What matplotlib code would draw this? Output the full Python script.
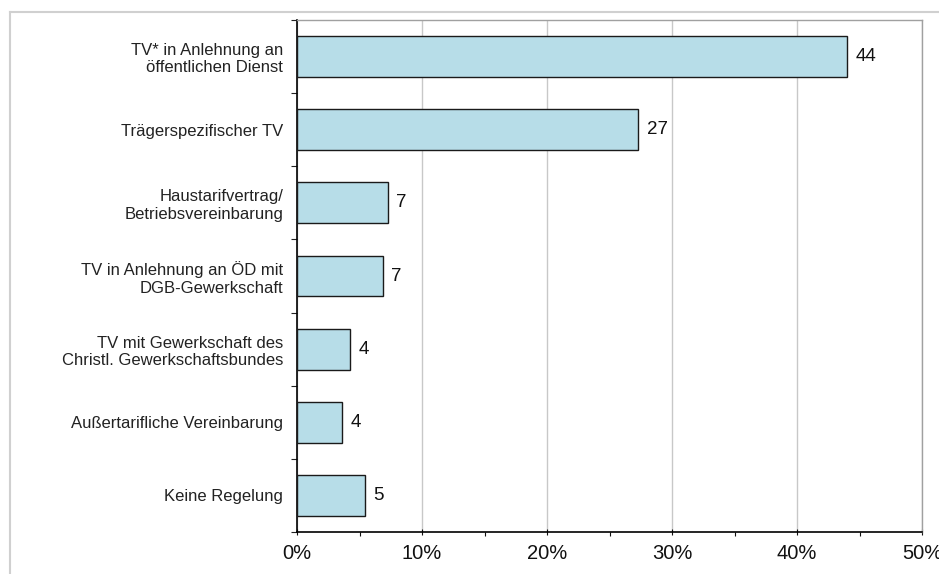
import matplotlib
matplotlib.use("Agg")
import matplotlib.pyplot as plt
from matplotlib.lines import Line2D
from matplotlib.ticker import FixedLocator, FuncFormatter

categories = [
    "TV* in Anlehnung an\nöffentlichen Dienst",
    "Trägerspezifischer TV",
    "Haustarifvertrag/\nBetriebsvereinbarung",
    "TV in Anlehnung an ÖD mit\nDGB-Gewerkschaft",
    "TV mit Gewerkschaft des\nChristl. Gewerkschaftsbundes",
    "Außertarifliche Vereinbarung",
    "Keine Regelung",
]
values = [44.0, 27.3, 7.25, 6.85, 4.25, 3.6, 5.45]
value_labels = ["44", "27", "7", "7", "4", "4", "5"]
x_ticks = [0, 10, 20, 30, 40, 50]

plt.rcParams["font.family"] = ["Liberation Sans", "DejaVu Sans"]

fig = plt.figure(figsize=(9.39, 5.74), dpi=100)
ax = fig.add_axes([297/939, 1-532/574, 625/939, 512/574])

n = len(categories)
ypos = list(range(n))
ax.barh(ypos, values, height=0.56, color="#b7dde8", edgecolor="#1a1a1a", linewidth=1.0, zorder=3)
for y, v, lab in zip(ypos, values, value_labels):
    ax.annotate(lab, (v, y), xytext=(6, 0), textcoords="offset points",
                va="center", ha="left", fontsize=13.5, color="#111111")

ax.set_ylim(n - 0.5, -0.5)
ax.set_xlim(0, 50)
ax.set_yticks(ypos)
ax.set_yticklabels(categories, fontsize=12, color="#222222", ha="right")
ax.yaxis.set_major_locator(FixedLocator(ypos))
ax.set_yticks([i - 0.5 for i in range(n + 1)], minor=True)
ax.tick_params(axis="y", which="major", length=0, pad=10)
ax.tick_params(axis="y", which="minor", length=4, width=0.8, color="#222222", direction="out")

ax.set_xticks(x_ticks)
ax.xaxis.set_major_formatter(FuncFormatter(lambda v, p: f"{int(v)}%"))
ax.set_xticks([5, 15, 25, 35, 45], minor=True)
ax.tick_params(axis="x", which="major", length=5, width=0.8, direction="inout", labelsize=14.5, pad=6, colors="#111111")
ax.tick_params(axis="x", which="minor", length=3, width=0.8, direction="out", color="#111111")

ax.grid(axis="x", which="major", color="#c8c8c8", linewidth=1.0, zorder=0)
ax.set_axisbelow(True)

for s in ["left", "bottom"]:
    ax.spines[s].set_color("#000000")
    ax.spines[s].set_linewidth(1.2)
for s in ["top", "right"]:
    ax.spines[s].set_color("#a0a0a0")
    ax.spines[s].set_linewidth(1.0)

# outer frame (top and left)
fig.add_artist(Line2D([10/939, 1.0], [1-12/574, 1-12/574], transform=fig.transFigure, color="#d0d0d0", linewidth=1.5))
fig.add_artist(Line2D([10/939, 10/939], [0.0, 1-12/574], transform=fig.transFigure, color="#d0d0d0", linewidth=1.5))

fig.savefig("out.png", dpi=100)
